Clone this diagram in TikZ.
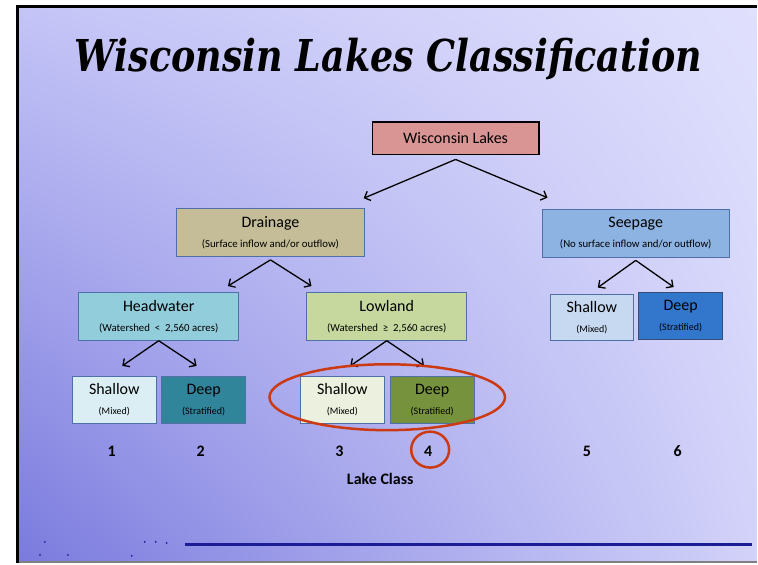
\documentclass[tikz,border=0pt]{standalone}
\usepackage{fontspec}
\setmainfont{Carlito}
\newfontfamily\titlefont{DejaVu Serif}
\usetikzlibrary{positioning, calc, arrows.meta, shapes.geometric, shadings}
\tikzstyle{Arrow} = [
%Create custom arrow style:
line width=1.3pt,
-{Straight Barb[length=5pt, width=10pt]}
]
\definecolor{topred}{HTML}{D99594}
\definecolor{drainfill}{HTML}{C4BD97}
\definecolor{seepfill}{HTML}{8DB3E2}
\definecolor{headfill}{HTML}{92CDDC}
\definecolor{lowfill}{HTML}{C6D89E}
\definecolor{shonefill}{HTML}{DBEEF3}
\definecolor{dptwofill}{HTML}{31859B}
\definecolor{shthreefill}{HTML}{EBF1DE}
\definecolor{dpfourfill}{HTML}{76923C}
\definecolor{shfivefill}{HTML}{C6D9F1}
\definecolor{dpsixfill}{HTML}{3377CC}
\definecolor{boxedge}{HTML}{4F6FA8}
\definecolor{ringred}{HTML}{CC3A14}
\definecolor{footblue}{HTML}{1C1C96}
\definecolor{bgul}{HTML}{C4C4F7}
\definecolor{bgur}{HTML}{E0E0FD}
\definecolor{bgll}{HTML}{7A7ADE}
\definecolor{bglr}{HTML}{D2D2FA}
\newcommand{\subtxt}[1]{{\fontsize{10}{12}\selectfont #1}}
\newcommand{\subwide}[1]{{\fontsize{10.8}{12}\selectfont #1}}

\begin{document}
\begin{tikzpicture}[
				x=1pt, y=-1pt,
				lakebox/.style = {rectangle, draw=boxedge, line width=0.8pt, inner sep=0pt, align=center, font=\fontsize{16}{19}\selectfont},
				branch/.style = {lakebox, minimum width=188pt, minimum height=48pt},
				kind/.style = {lakebox, minimum width=160pt, minimum height=48pt},
				leaf/.style = {lakebox, minimum width=84pt, minimum height=47pt},
				classnum/.style = {font=\bfseries\fontsize{16}{19}\selectfont},
				ring/.style = {draw=ringred, line width=2.5pt},
			]

			% slide background
			\fill[white](0,0) rectangle (758,564);
			\shade[upper left=bgul, upper right=bgur, lower left=bgll, lower right=bglr](17.5,6.5) rectangle (758,562.5);
			\draw[line width=3pt](17.5,564)--(17.5,6.5)--(758,6.5);
			\draw[gray, line width=2pt](19,563)--(758,563);
			\useasboundingbox (0,0) rectangle (758,564);

			\node[anchor=base, font=\titlefont\bfseries\itshape\fontsize{44}{50}\selectfont](title) at (389,72){\scalebox{0.83}[1]{Wisconsin Lakes Classification}};

			\node[lakebox, fill=topred, draw=black, line width=1.5pt, minimum width=167pt, minimum height=33pt](top) at (456.5,138.5){Wisconsin Lakes};
			\node[branch, fill=drainfill](drain) at (271,233){Drainage\\[1pt]\subwide{(Surface inflow and/or outflow)}};
			\node[branch, fill=seepfill](seep) at (637,233.5){Seepage\\[1pt]\subwide{(No surface inflow and/or outflow)}};
			\node[kind, fill=headfill](head) at (159,317){Headwater\\[1pt]\subwide{(Watershed~ <~ 2,560 acres)}};
			\node[kind, fill=lowfill](low) at (387.5,317){Lowland\\[1pt]\subwide{(Watershed~ ≥~ 2,560 acres)}};
			\node[leaf, fill=shonefill](shone) at (114.5,400.5){Shallow\\[1pt]\subtxt{(Mixed)}};
			\node[leaf, fill=dptwofill](dptwo) at (204,400.5){Deep\\[1pt]\subtxt{(Stratified)}};
			\node[leaf, fill=shthreefill](shthree) at (343,400.5){Shallow\\[1pt]\subtxt{(Mixed)}};
			\node[leaf, fill=dpfourfill](dpfour) at (433,400.5){Deep\\[1pt]\subtxt{(Stratified)}};
			\node[leaf, fill=shfivefill](shfive) at (593,318){Shallow\\[1pt]\subtxt{(Mixed)}};
			\node[leaf, fill=dpsixfill, draw=boxedge!70!black](dpsix) at (682,316.5){Deep\\[1pt]\subtxt{(Stratified)}};

			\draw[Arrow]([yshift=-4pt]top.south)--([shift={(-1,-10)}]drain.north east);
			\draw[Arrow]([yshift=-4pt]top.south)--([shift={(6,-11)}]seep.north west);
			\draw[Arrow]([yshift=-3pt]drain.south)--([shift={(-11,-6)}]head.north east);
			\draw[Arrow]([yshift=-3pt]drain.south)--([shift={(5,-6)}]low.north west);
			\draw[Arrow](head.south)--([shift={(8,-10)}]shone.north);
			\draw[Arrow](head.south)--([shift={(-7,-10)}]dptwo.north);
			\draw[Arrow](low.south)--([shift={(8,-10)}]shthree.north);
			\draw[Arrow](low.south)--([shift={(-8,-10)}]dpfour.north);
			\draw[Arrow]([yshift=-3pt]seep.south)--([shift={(6,-6)}]shfive.north);
			\draw[Arrow]([yshift=-3pt]seep.south)--([shift={(-7,-5)}]dpsix.north);

			\node[classnum](cone) at (112,452){1};
			\node[classnum](ctwo) at (201,452){2};
			\node[classnum](cthree) at (340,452){3};
			\node[classnum](cfour) at (429,452){4};
			\node[classnum](cfive) at (588,452){5};
			\node[classnum](csix) at (679,452){6};
			\node[classnum](lakeclass) at (381,480){Lake Class};

			\draw[ring](388,398) ellipse [x radius=118pt, y radius=33pt];
			\draw[ring](431,450.5) ellipse [x radius=19pt, y radius=18pt];

			% footer
			\draw[footblue, line width=3pt](185,546)--(753,546);
			\foreach \p in {(45,543),(40,556),(68,556),(145,543),(156,543),(167,544),(132,557)}
				\fill[footblue] \p circle (1pt);

		\end{tikzpicture}
\end{document}
